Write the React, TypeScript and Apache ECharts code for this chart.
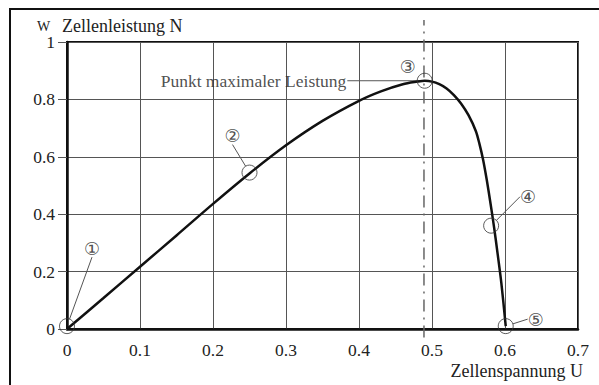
import React, { useEffect, useRef } from "react";
import * as echarts from "echarts";

// Curve: cell power N (W) versus cell voltage U
const voltage = [0, 0.05, 0.1, 0.15, 0.2, 0.25, 0.3, 0.35, 0.4, 0.43, 0.46, 0.48, 0.49, 0.5, 0.51, 0.52, 0.53, 0.54, 0.55, 0.56, 0.565, 0.57, 0.575, 0.58, 0.585, 0.59, 0.595, 0.601];
const power = [0, 0.108, 0.217, 0.326, 0.436, 0.542, 0.64, 0.725, 0.795, 0.828, 0.853, 0.862, 0.865, 0.862, 0.853, 0.838, 0.815, 0.785, 0.745, 0.69, 0.645, 0.59, 0.52, 0.44, 0.355, 0.26, 0.16, 0.01];

// Marked operating points
const pointU = [0, 0.25, 0.49, 0.581, 0.601];
const pointP = [0.01, 0.545, 0.865, 0.36, 0.01];
const pointLabels = ["①", "②", "③", "④", "⑤"];

// Maximum power point
const mppU = 0.489;
const mppP = 0.865;
const mppLineRange = [-0.03, 1.077];
const mppLabel = "Punkt maximaler Leistung";
const mppLabelEndU = 0.384;

const yUnit = "W";
const yTitle = "Zellenleistung N";
const xTitle = "Zellenspannung U";

// label offsets in pixels (layout only)
const labelOffsets = [
  [25, -78],
  [-17, -37],
  [-17, -14],
  [37, -29],
  [30, -7],
];

const SERIF = "'Liberation Serif', 'Times New Roman', serif";
const CIRC = "'DejaVu Sans', 'Noto Sans CJK SC', sans-serif";

export default function App() {
  const ref = useRef<HTMLDivElement>(null);
  useEffect(() => {
    if (!ref.current) return;
    const chart = echarts.init(ref.current, null, { renderer: "svg" });
    const curve = voltage.map((u, i) => [u, power[i]]);
    const points = pointU.map((u, i) => ({
      value: [u, pointP[i]],
      labelLine: { show: i !== 2 },
    }));
    chart.setOption({
      animation: false,
      backgroundColor: "#fff",
      grid: {
        left: 67,
        top: 42,
        right: 21,
        bottom: 56,
        show: true,
        borderColor: "#111",
        borderWidth: 2,
        backgroundColor: "transparent",
      },
      xAxis: {
        type: "value",
        min: 0,
        max: 0.7,
        interval: 0.1,
        axisLine: { show: true, lineStyle: { color: "#111", width: 2.5 } },
        axisTick: { show: false },
        axisLabel: { color: "#222", fontFamily: SERIF, fontSize: 17.5, margin: 12 },
        splitLine: { show: true, lineStyle: { color: "#555", width: 1 } },
      },
      yAxis: {
        type: "value",
        min: 0,
        max: 1,
        interval: 0.2,
        axisLine: { show: true, lineStyle: { color: "#111", width: 2.5 } },
        axisTick: { show: true, length: 9, lineStyle: { color: "#555", width: 1 } },
        axisLabel: { color: "#222", fontFamily: SERIF, fontSize: 17.5, margin: 12 },
        splitLine: { show: true, lineStyle: { color: "#555", width: 1 } },
      },
      series: [
        {
          type: "line",
          data: [
            [mppU, mppLineRange[0]],
            [mppU, mppLineRange[1]],
          ],
          clip: false,
          symbol: "none",
          lineStyle: { color: "#666", width: 1.5, type: [12, 6, 2, 6] },
          z: 3,
        },
        {
          type: "line",
          data: [
            [mppLabelEndU, mppP],
            [mppU, mppP],
          ],
          symbol: "none",
          lineStyle: { color: "#555", width: 1 },
          z: 3,
        },
        {
          type: "line",
          data: curve,
          smooth: 0.3,
          symbol: "none",
          lineStyle: { color: "#111", width: 2.5 },
          z: 4,
        },
        {
          type: "scatter",
          data: [[mppLabelEndU, mppP]],
          symbolSize: 0,
          label: {
            show: true,
            position: "left",
            distance: 1,
            formatter: () => mppLabel,
            fontFamily: SERIF,
            fontSize: 17.5,
            color: "#222",
          },
          z: 5,
        },
        {
          type: "scatter",
          data: points,
          symbol: "circle",
          symbolSize: 15,
          itemStyle: { color: "rgba(0,0,0,0)", borderColor: "#333", borderWidth: 1 },
          label: {
            show: true,
            position: "inside",
            formatter: (p: any) => pointLabels[p.dataIndex],
            fontFamily: CIRC,
            fontSize: 18,
            color: "#222",
          },
          labelLayout: (p: any) => ({
            dx: labelOffsets[p.dataIndex][0],
            dy: labelOffsets[p.dataIndex][1],
          }),
          labelLine: { show: true, lineStyle: { color: "#555", width: 1 } },
          z: 6,
        },
      ],
      graphic: [
        {
          type: "rect",
          shape: { x: 10, y: 9, width: 640, height: 420 },
          style: { fill: "none", stroke: "#111", lineWidth: 2 },
          silent: true,
        },
        {
          type: "text",
          x: 37,
          y: 26,
          style: {
            text: yUnit,
            font: `14px ${SERIF}`,
            fill: "#222",
            textAlign: "left",
            textVerticalAlign: "middle",
          },
        },
        {
          type: "text",
          x: 62,
          y: 26,
          style: {
            text: yTitle,
            font: `18px ${SERIF}`,
            fill: "#222",
            textAlign: "left",
            textVerticalAlign: "middle",
          },
        },
        {
          type: "text",
          x: 583,
          y: 371,
          style: {
            text: xTitle,
            font: `18px ${SERIF}`,
            fill: "#222",
            textAlign: "right",
            textVerticalAlign: "middle",
          },
        },
      ],
    });
    return () => chart.dispose();
  }, []);
  return (
    <div
      ref={ref}
      style={{ position: "fixed", left: 0, top: 0, width: 599, height: 385 }}
    />
  );
}
